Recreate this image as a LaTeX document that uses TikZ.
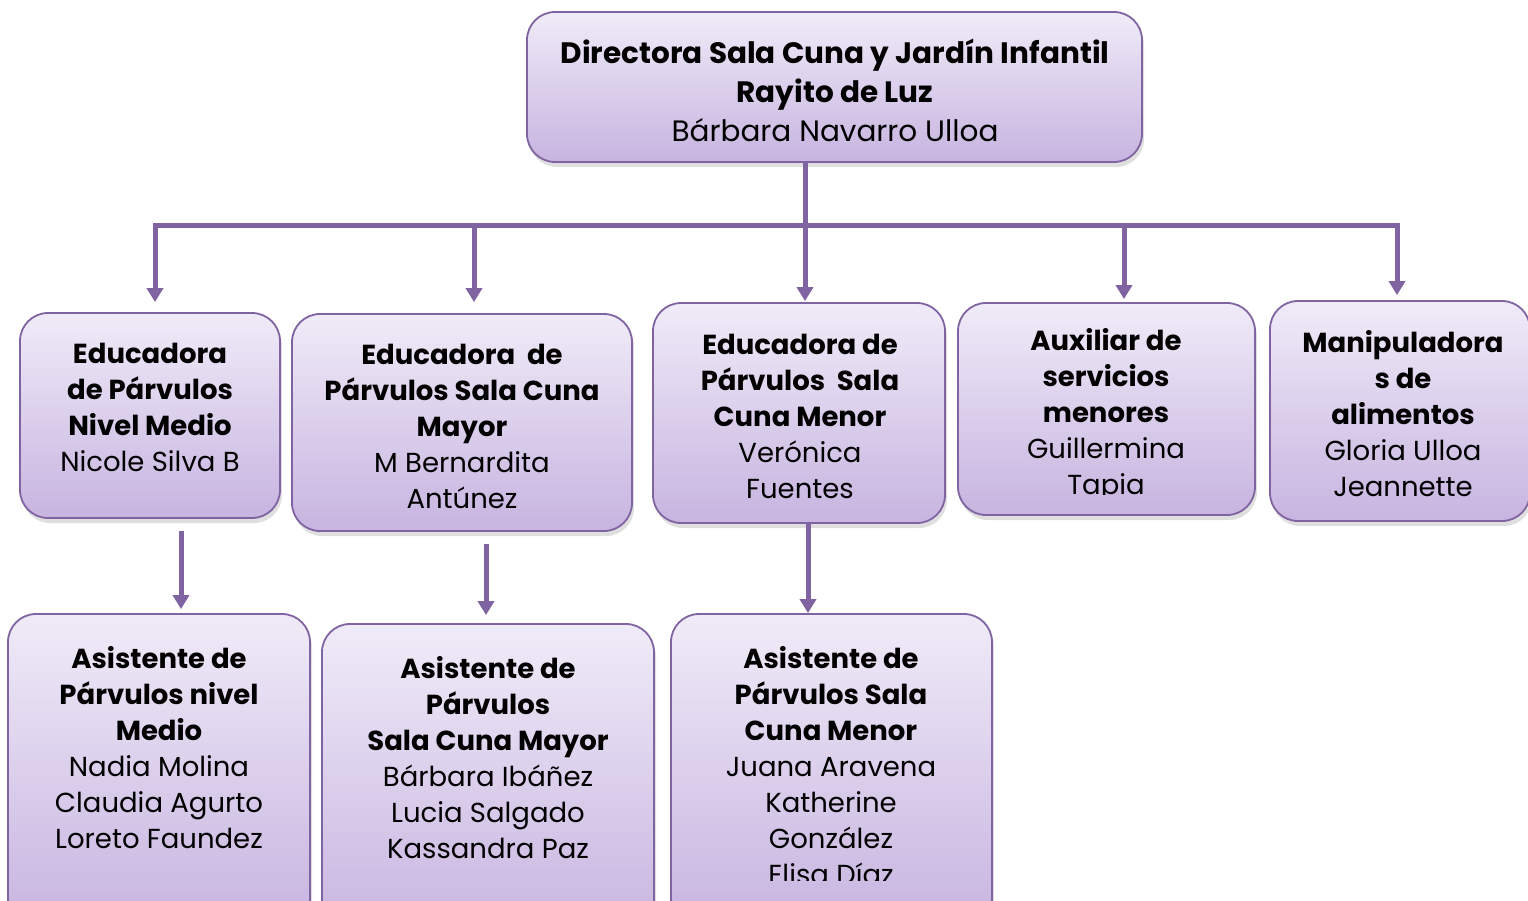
\documentclass[tikz,border=0pt]{standalone}
\usepackage{fontspec}
\setmainfont{Poppins}
\usetikzlibrary{positioning, arrows.meta, shadows}
\definecolor{orgline}{HTML}{8064A2}
\definecolor{orgtop}{HTML}{F0EBF8}
\definecolor{orgbottom}{HTML}{C7B4E0}

\begin{document}
\begin{tikzpicture}[
                x=1pt, y=-1pt,
                >={Triangle[width=16pt,length=14pt]},
                box/.style={draw=orgline, line width=1.8pt, rounded corners=28pt,
                    top color=orgtop, bottom color=orgbottom, inner sep=0pt,
                    drop shadow={shadow xshift=2pt, shadow yshift=-5pt, opacity=.25}},
                txt/.style={align=center, inner sep=0pt, font=\fontsize{27.5}{36}\selectfont},
                link/.style={draw=orgline, line width=5pt},
                arrow/.style={link, ->},
            ]
                \clip (0,0) rectangle (1528,900);

                % Draw the boxes
                \foreach \name / \x / \y / \w / \h in {T/834.5/87/615/150,
                        A/150/415.5/260/205, B/462/422.5/340/217, C/799/413/292/220,
                        D/1106.5/409/297/212, E/1400/411/260/220,
                        F/159/770/302/312, G/488/780/332/312, H/831.5/770/321/312}
                    \node[box, minimum width=\w pt, minimum height=\h pt] (\name) at (\x,\y) {};

                % Draw the texts
                \node[txt, font=\fontsize{29.5}{39}\selectfont] (T-text) at (835,90)
                    {\textbf{Directora Sala Cuna y Jardín Infantil}\\ \textbf{Rayito de Luz}\\ Bárbara Navarro Ulloa};
                \node[txt] (A-text) at (150,407)
                    {\textbf{Educadora}\\ \textbf{de Párvulos}\\ \textbf{Nivel Medio}\\ Nicole Silva B};
                \node[txt] (B-text) at (462,426)
                    {\textbf{Educadora \ de}\\ \textbf{Párvulos Sala Cuna}\\ \textbf{Mayor}\\ M Bernardita\\ Antúnez};
                \node[txt] (C-text) at (800,416)
                    {\textbf{Educadora de}\\ \textbf{Párvulos \ Sala}\\ \textbf{Cuna Menor}\\ Verónica\\ Fuentes};
                \begin{scope}
                    \clip (900,300) rectangle (1300,494);
                    \node[txt] (D-text) at (1106,415)
                        {\textbf{Auxiliar de}\\ \textbf{servicios}\\ \textbf{menores}\\ Guillermina\\ Tapia};
                \end{scope}
                \node[txt] (E-text) at (1403,414)
                    {\textbf{Manipuladora}\\ \textbf{s de}\\ \textbf{alimentos}\\ Gloria Ulloa\\ Jeannette};
                \node[txt] (F-text) at (159,748)
                    {\textbf{Asistente de}\\ \textbf{Párvulos nivel}\\ \textbf{Medio}\\ Nadia Molina\\ Claudia Agurto\\ Loreto Faundez};
                \node[txt] (G-text) at (488,758)
                    {\textbf{Asistente de}\\ \textbf{Párvulos}\\ \textbf{Sala Cuna Mayor}\\ Bárbara Ibáñez\\ Lucia Salgado\\ Kassandra Paz};
                \begin{scope}
                    \clip (660,600) rectangle (1000,880);
                    \node[txt] (H-text) at (831,766)
                        {\textbf{Asistente de}\\ \textbf{Párvulos Sala}\\ \textbf{Cuna Menor}\\ Juana Aravena\\ Katherine\\ González\\ Elisa Díaz};
                \end{scope}

                % Connect the director with the first row
                \coordinate (bar-L) at (155,225);
                \coordinate (bar-R) at (1397,225);
                \coordinate (hub) at (805,225);
                \draw[link] (T.south -| hub) -- (hub);
                \draw[link] ([xshift=-2.5pt]bar-L) -- ([xshift=2.5pt]bar-R);
                \foreach \dest / \x / \gap in {A/155/10, B/474/11, C/805/1, D/1124/3, E/1397/5}
                    \draw[arrow, shorten >=\gap pt] (\x,225) -- (\x,0 |- \dest.north);

                % Connect the first row with the assistants
                \foreach \source / \dest / \x / \start / \gap in {A/F/181/12/4, B/G/486/12/8, C/H/808/0/0}
                    \draw[arrow, shorten <=\start pt, shorten >=\gap pt] (\x,0 |- \source.south) -- (\x,0 |- \dest.north);
            \end{tikzpicture}
\end{document}
